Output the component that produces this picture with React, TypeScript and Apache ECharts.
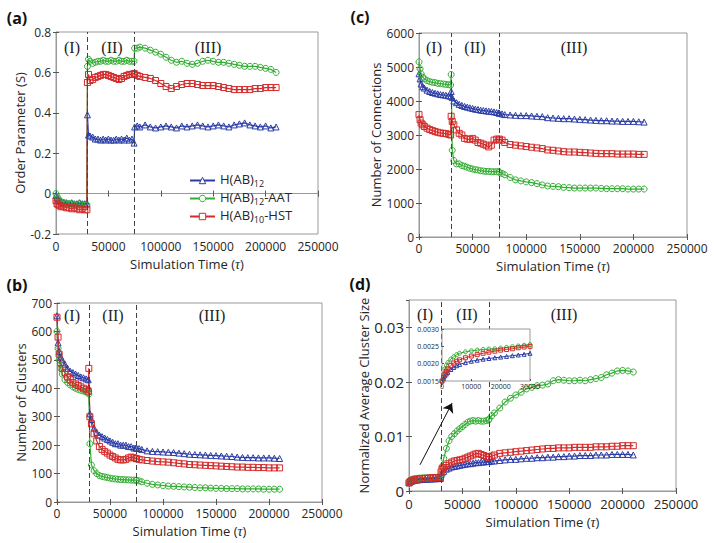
import React, { useEffect, useRef } from 'react';
import * as echarts from 'echarts';

// ---------------- data ----------------
const T = [
  0, 1000, 2000, 3500, 5000, 7500, 10000, 12500, 15000, 17500, 20000, 22500, 25000, 27500, 29500,
  30000, 31000, 32500, 35000, 37500, 40000, 42500, 45000, 47500, 50000, 52500, 55000, 57500, 60000, 62500, 65000, 67500, 70000, 72500, 74500,
  75000, 77500, 80000, 85000, 90000, 95000, 100000, 105000, 110000, 115000, 120000, 125000, 130000, 135000, 140000, 145000, 150000, 155000, 160000, 165000, 170000, 175000, 180000, 185000, 190000, 195000, 200000, 205000, 210000,
];
const PHASE_BOUNDS = [30000, 75000];
const NAMES = ['H(AB)12', 'H(AB)12-AAT', 'H(AB)10-HST'];

// (a) order parameter
const A_BLUE = [
  -0.01, -0.02, -0.03, -0.035, -0.04, -0.045, -0.045, -0.05, -0.045, -0.05, -0.05, -0.045, -0.05, -0.05, -0.05,
  0.39, 0.29, 0.285, 0.28, 0.27, 0.27, 0.265, 0.27, 0.265, 0.27, 0.265, 0.265, 0.27, 0.265, 0.27, 0.265, 0.275, 0.265, 0.27, 0.25,
  0.33, 0.335, 0.33, 0.34, 0.33, 0.325, 0.33, 0.335, 0.33, 0.325, 0.335, 0.33, 0.335, 0.34, 0.335, 0.33, 0.335, 0.34, 0.335, 0.33, 0.34, 0.345, 0.35, 0.34, 0.335, 0.33, 0.335, 0.325, 0.33,
];
const A_GREEN = [
  0, -0.015, -0.025, -0.035, -0.04, -0.045, -0.05, -0.05, -0.05, -0.055, -0.055, -0.05, -0.055, -0.055, -0.055,
  0.63, 0.665, 0.655, 0.645, 0.65, 0.655, 0.655, 0.66, 0.655, 0.655, 0.66, 0.655, 0.655, 0.66, 0.655, 0.655, 0.66, 0.655, 0.655, 0.655,
  0.72, 0.72, 0.725, 0.72, 0.71, 0.7, 0.69, 0.675, 0.66, 0.65, 0.655, 0.645, 0.64, 0.645, 0.655, 0.66, 0.655, 0.65, 0.65, 0.645, 0.64, 0.635, 0.63, 0.63, 0.63, 0.625, 0.62, 0.615, 0.6,
];
const A_RED = [
  -0.035, -0.05, -0.055, -0.06, -0.065, -0.065, -0.07, -0.07, -0.075, -0.07, -0.075, -0.08, -0.075, -0.08, -0.08,
  0.55, 0.59, 0.56, 0.565, 0.575, 0.58, 0.585, 0.59, 0.59, 0.585, 0.58, 0.575, 0.57, 0.565, 0.57, 0.58, 0.585, 0.59, 0.59, 0.595,
  0.59, 0.585, 0.58, 0.575, 0.57, 0.56, 0.545, 0.53, 0.52, 0.53, 0.54, 0.545, 0.545, 0.54, 0.535, 0.535, 0.535, 0.53, 0.525, 0.52, 0.515, 0.515, 0.515, 0.515, 0.52, 0.52, 0.525, 0.525, 0.525,
];

// (b) number of clusters
const B_BLUE = [
  655, 560, 530, 510, 500, 485, 470, 460, 455, 450, 445, 440, 437, 433, 430,
  400, 310, 290, 260, 245, 235, 230, 225, 220, 215, 210, 205, 205, 200, 200, 200, 195, 195, 190, 190,
  190, 188, 185, 180, 178, 177, 176, 175, 174, 172, 170, 168, 167, 166, 165, 164, 163, 162, 161, 160, 158, 157, 156, 156, 155, 155, 155, 154, 153,
];
const B_GREEN = [
  600, 540, 500, 470, 450, 430, 420, 412, 405, 400, 396, 393, 390, 387, 385,
  380, 205, 130, 110, 100, 93, 90, 88, 86, 84, 82, 81, 80, 79, 79, 78, 78, 77, 77, 77,
  76, 74, 71, 66, 62, 60, 58, 56, 55, 54, 53, 52, 51, 50, 50, 49, 48, 48, 47, 47, 47, 46, 46, 46, 46, 45, 45, 45, 45,
];
const B_RED = [
  650, 580, 520, 490, 470, 455, 440, 430, 420, 415, 410, 405, 400, 395, 390,
  470, 300, 275, 240, 215, 195, 185, 178, 172, 165, 160, 155, 150, 148, 148, 150, 155, 158, 156, 153,
  152, 150, 148, 146, 144, 142, 141, 140, 138, 136, 134, 132, 131, 130, 129, 128, 127, 126, 125, 124, 123, 123, 122, 122, 121, 121, 120, 120, 120,
];

// (c) number of connections
const C_BLUE = [
  4800, 4650, 4500, 4420, 4380, 4320, 4280, 4250, 4230, 4210, 4190, 4180, 4170, 4150, 4140,
  4280, 4100, 4000, 3950, 3900, 3870, 3840, 3820, 3800, 3780, 3760, 3750, 3730, 3720, 3710, 3700, 3690, 3680, 3660, 3650,
  3640, 3620, 3600, 3590, 3580, 3570, 3570, 3560, 3550, 3540, 3510, 3500, 3490, 3480, 3480, 3470, 3460, 3450, 3440, 3430, 3420, 3420, 3410, 3410, 3400, 3400, 3400, 3390, 3380,
];
const C_GREEN = [
  5150, 4950, 4800, 4700, 4650, 4600, 4570, 4550, 4540, 4520, 4510, 4500, 4490, 4480, 4470,
  4780, 2550, 2250, 2150, 2150, 2100, 2080, 2050, 2020, 2000, 1980, 1970, 1950, 1940, 1930, 1930, 1920, 1920, 1920, 1920,
  1900, 1870, 1830, 1750, 1680, 1650, 1620, 1600, 1570, 1530, 1500, 1490, 1480, 1460, 1450, 1440, 1440, 1440, 1440, 1440, 1430, 1420, 1420, 1420, 1420, 1410, 1410, 1410, 1410,
];
const C_RED = [
  3600, 3450, 3350, 3300, 3250, 3200, 3160, 3130, 3100, 3080, 3060, 3050, 3040, 3020, 3000,
  3550, 3400, 3300, 3150, 3050, 3000, 2900, 2880, 2870, 2900, 2850, 2780, 2760, 2730, 2700, 2650, 2700, 2850, 2880, 2850,
  2880, 2850, 2780, 2720, 2700, 2680, 2660, 2640, 2620, 2600, 2560, 2550, 2530, 2510, 2500, 2500, 2490, 2480, 2470, 2460, 2450, 2450, 2450, 2440, 2440, 2440, 2440, 2430, 2430,
];

// (d) normalized average cluster size
const D_BLUE = [
  0.0015, 0.00165, 0.00175, 0.00186, 0.00194, 0.002, 0.00207, 0.00211, 0.00214, 0.00216, 0.00219, 0.00222, 0.00224, 0.00227, 0.0023,
  0.003, 0.0033, 0.0036, 0.004, 0.0042, 0.0044, 0.0045, 0.0046, 0.0047, 0.0048, 0.0049, 0.005, 0.005, 0.0051, 0.0052, 0.0052, 0.0053, 0.0053, 0.0054, 0.0054,
  0.0054, 0.0055, 0.0055, 0.0056, 0.0057, 0.0058, 0.0058, 0.0059, 0.006, 0.006, 0.0061, 0.0061, 0.0062, 0.0062, 0.0063, 0.0063, 0.0064, 0.0064, 0.0065, 0.0065, 0.0065, 0.0066, 0.0066, 0.0066, 0.0067, 0.0067, 0.0067, 0.0067, 0.0066,
];
const D_GREEN = [
  0.0015, 0.00185, 0.00203, 0.00216, 0.00226, 0.00232, 0.00237, 0.0024, 0.00241, 0.00243, 0.00245, 0.00248, 0.0025, 0.00252, 0.00255,
  0.003, 0.0045, 0.006, 0.0078, 0.0092, 0.01, 0.0105, 0.011, 0.0114, 0.0118, 0.0122, 0.0126, 0.0128, 0.0129, 0.0128, 0.0129, 0.0128, 0.0128, 0.0129, 0.013,
  0.0132, 0.0138, 0.0143, 0.0152, 0.0163, 0.017, 0.0176, 0.0181, 0.0187, 0.019, 0.0193, 0.0194, 0.0196, 0.0202, 0.0204, 0.0203, 0.0202, 0.0202, 0.0203, 0.0202, 0.0204, 0.0206, 0.0208, 0.0213, 0.0216, 0.022, 0.0221, 0.022, 0.0218,
];
const D_RED = [
  0.0015, 0.0017, 0.00185, 0.00196, 0.00207, 0.00215, 0.00222, 0.00227, 0.00231, 0.00234, 0.00239, 0.00242, 0.00244, 0.00247, 0.0025,
  0.0035, 0.004, 0.0043, 0.0047, 0.005, 0.0053, 0.0055, 0.0056, 0.0057, 0.0058, 0.006, 0.0062, 0.0064, 0.0066, 0.0068, 0.0069, 0.0067, 0.0065, 0.0063, 0.0063,
  0.0062, 0.0064, 0.0066, 0.0069, 0.007, 0.0071, 0.0072, 0.0073, 0.0074, 0.0075, 0.0076, 0.0077, 0.0078, 0.0078, 0.0079, 0.0079, 0.0079, 0.008, 0.008, 0.008, 0.008, 0.0081, 0.0081, 0.0081, 0.0082, 0.0082, 0.0083, 0.0083, 0.0083,
];

// inset of (d): phase I detail
const TI = [0, 500, 1000, 1500, 2000, 3000, 4000, 5000, 6000, 8000, 10000, 12000, 14000, 16000, 18000, 20000, 22000, 24000, 26000, 28000, 30000];
const I_BLUE = [0.0015, 0.00157, 0.00165, 0.0017, 0.00175, 0.00183, 0.00189, 0.00194, 0.00198, 0.00203, 0.00207, 0.0021, 0.00213, 0.00215, 0.00217, 0.00219, 0.00221, 0.00223, 0.00225, 0.00227, 0.0023];
const I_GREEN = [0.0015, 0.0017, 0.00185, 0.00195, 0.00203, 0.00213, 0.0022, 0.00226, 0.0023, 0.00234, 0.00237, 0.00239, 0.00241, 0.00242, 0.00243, 0.00245, 0.00247, 0.00249, 0.00251, 0.00253, 0.00255];
const I_RED = [0.0015, 0.0016, 0.0017, 0.00178, 0.00185, 0.00195, 0.00202, 0.00207, 0.00211, 0.00217, 0.00222, 0.00226, 0.0023, 0.00233, 0.00236, 0.00239, 0.00241, 0.00243, 0.00246, 0.00248, 0.0025];

// arrow in (d), data coordinates [time, size]
const ARROW_FROM = [10300, 0.0048];
const ARROW_TO = [40300, 0.0161];

const REGION_TEXT = ['(I)', '(II)', '(III)'];

// ---------------- style ----------------
const COLORS = ['#2b3ca6', '#33ad33', '#d42a2a'];
const SYMBOLS = ['triangle', 'circle', 'rect'];
const FONT = '"Open Sans", "Noto Sans", sans-serif';
const SERIF = '"Liberation Serif", "DejaVu Serif", serif';
const TEXT = '#262626';
const BOX = '#999999';
const CLEAR = 'rgba(255,255,255,0)';

export default function App() {
  const ref = useRef<HTMLDivElement>(null);

  useEffect(() => {
    const chart = echarts.init(ref.current!, null, { renderer: 'svg' });

    const panels = [
      { grid: { left: 56, top: 32, width: 262, height: 202 }, y: { min: -0.2, max: 0.8, interval: 0.2 }, fmt: (v: number) => (Math.abs(v) < 1e-9 ? '0' : v.toFixed(1)),
        yName: 'Order Parameter (S)', vals: [A_BLUE, A_GREEN, A_RED], xm: 6, xg: 23, yg: 27, xs: 12, ys: 12 },
      { grid: { left: 57, top: 303, width: 265, height: 199 }, y: { min: 0, max: 700, interval: 100 }, fmt: (v: number) => String(v),
        yName: 'Number of Clusters', vals: [B_BLUE, B_GREEN, B_RED], xm: 5, xg: 22, yg: 26, xs: 12, ys: 12 },
      { grid: { left: 419, top: 33, width: 268, height: 204 }, y: { min: 0, max: 6000, interval: 1000 }, fmt: (v: number) => String(v),
        yName: 'Number of Connections', vals: [C_BLUE, C_GREEN, C_RED], xm: 5, xg: 22, yg: 33, xs: 12, ys: 12 },
      { grid: { left: 409, top: 300, width: 267, height: 191 }, y: { min: 0, max: 0.035, interval: 0.01 }, fmt: (v: number) => (Math.abs(v) < 1e-12 ? '0' : String(+v.toFixed(3))),
        yName: 'Normalized Average Cluster Size', vals: [D_BLUE, D_GREEN, D_RED], xm: 6, xg: 24, yg: 32, xs: 13, ys: 15 },
    ];

    const grids: any[] = panels.map((p) => ({ ...p.grid, show: true, borderColor: BOX, borderWidth: 1 }));
    grids.push({ left: 442, top: 329, width: 88, height: 52, show: true, borderColor: BOX, borderWidth: 1, backgroundColor: '#fff', z: 20 });

    const xName = '{a|Simulation Time (}{t|τ}{a|)}';
    const xAxes: any[] = panels.map((p, i) => ({
      type: 'value', gridIndex: i, min: 0, max: 250000, interval: 50000,
      axisLine: { show: true, lineStyle: { color: BOX } },
      axisTick: { show: true, inside: true, length: 3, lineStyle: { color: '#555' } },
      splitLine: { show: false },
      axisLabel: { color: TEXT, fontSize: p.xs, fontFamily: FONT, margin: p.xm, lineHeight: 13, formatter: (v: number) => String(v) },
      name: xName, nameLocation: 'middle', nameGap: p.xg,
      nameTextStyle: {
        color: TEXT, fontSize: 13, fontFamily: FONT, lineHeight: 14,
        rich: {
          a: { color: TEXT, fontSize: 13, fontFamily: FONT, lineHeight: 14 },
          t: { color: TEXT, fontSize: 14, fontFamily: SERIF, fontStyle: 'italic', lineHeight: 14 },
        },
      },
    }));
    const yAxes: any[] = panels.map((p, i) => ({
      type: 'value', gridIndex: i, min: p.y.min, max: p.y.max, interval: p.y.interval,
      axisLine: { show: true, lineStyle: { color: BOX } },
      axisTick: { show: true, inside: true, length: 3, lineStyle: { color: '#555' } },
      splitLine: { show: false },
      axisLabel: { color: TEXT, fontSize: p.ys, fontFamily: FONT, margin: 5, formatter: p.fmt, showMaxLabel: i === 3 ? false : true },
      name: p.yName, nameLocation: 'middle', nameGap: p.yg,
      nameTextStyle: { color: TEXT, fontSize: 13, fontFamily: FONT },
    }));
    // inset axes (index 4)
    xAxes.push({
      type: 'value', gridIndex: 4, min: 0, max: 30000, interval: 10000, z: 21,
      axisLine: { show: false }, axisTick: { show: true, inside: true, length: 2, lineStyle: { color: '#555' } },
      splitLine: { show: false }, axisLabel: { color: TEXT, fontSize: 7, fontFamily: FONT, margin: 2, formatter: (v: number) => String(v) },
    });
    yAxes.push({
      type: 'value', gridIndex: 4, min: 0.0015, max: 0.003, interval: 0.0005, z: 21,
      axisLine: { show: false }, axisTick: { show: true, inside: true, length: 2, lineStyle: { color: '#555' } },
      splitLine: { show: false }, axisLabel: { color: TEXT, fontSize: 7, fontFamily: FONT, margin: 3, formatter: (v: number) => v.toFixed(4) },
    });
    // mirror (box) ticks on top/right
    panels.forEach((p, i) => {
      xAxes.push({
        type: 'value', gridIndex: i, position: 'top', min: 0, max: 250000, interval: 50000,
        axisLine: { show: false }, axisTick: { show: true, inside: true, length: 3, lineStyle: { color: '#555' } },
        axisLabel: { show: false }, splitLine: { show: false },
      });
      yAxes.push({
        type: 'value', gridIndex: i, position: 'right', min: p.y.min, max: p.y.max, interval: p.y.interval,
        axisLine: { show: false }, axisTick: { show: true, inside: true, length: 3, lineStyle: { color: '#555' } },
        axisLabel: { show: false }, splitLine: { show: false },
      });
    });

    const series: any[] = [];
    panels.forEach((p, pi) => {
      p.vals.forEach((vals, si) => {
        const s: any = {
          type: 'line', name: NAMES[si], xAxisIndex: pi, yAxisIndex: pi,
          data: T.map((t, k) => [t, vals[k]]),
          symbol: SYMBOLS[si], symbolSize: 6, showAllSymbol: true,
          lineStyle: { color: COLORS[si], width: 1.2 },
          itemStyle: { color: CLEAR, borderColor: COLORS[si], borderWidth: 1 },
          emphasis: { disabled: true }, silent: true, z: 2,
        };
        if (si === 0) {
          s.markLine = {
            silent: true, symbol: ['none', 'none'], label: { show: false },
            lineStyle: { color: '#444', type: [5, 3], width: 1 },
            data: PHASE_BOUNDS.map((x) => ({ xAxis: x })),
          };
        }
        if (pi === 3 && si === 1) {
          s.markLine = {
            silent: true, symbol: ['none', 'arrow'], symbolSize: 9, label: { show: false },
            lineStyle: { color: '#111', type: 'solid', width: 1 },
            data: [[{ coord: ARROW_FROM }, { coord: ARROW_TO }]],
          };
        }
        series.push(s);
      });
    });
    [I_BLUE, I_GREEN, I_RED].forEach((vals, si) => {
      series.push({
        type: 'line', name: NAMES[si], xAxisIndex: 4, yAxisIndex: 4,
        data: TI.map((t, k) => [t, vals[k]]),
        symbol: SYMBOLS[si], symbolSize: 4, showAllSymbol: true,
        lineStyle: { color: COLORS[si], width: 1 },
        itemStyle: { color: CLEAR, borderColor: COLORS[si], borderWidth: 1 },
        emphasis: { disabled: true }, silent: true, z: 22,
      });
    });

    const legendRich: Record<string, string> = {
      'H(AB)12': '{n|H(AB)}{s|12}',
      'H(AB)12-AAT': '{n|H(AB)}{s|12}{n|-AAT}',
      'H(AB)10-HST': '{n|H(AB)}{s|10}{n|-HST}',
    };

    const panelLabels = [
      { t: '(a)', x: 17, y: 18 },
      { t: '(c)', x: 360, y: 17 },
      { t: '(b)', x: 17, y: 285 },
      { t: '(d)', x: 360, y: 284 },
    ];
    const regionPos = [
      [[72, 47], [112, 47], [208, 47]],
      [[72, 315], [113, 315], [212, 315]],
      [[434, 47], [475, 47], [574, 47]],
      [[425, 314], [467, 314], [564, 314]],
    ];
    const graphic: any[] = [];
    panelLabels.forEach((l) =>
      graphic.push({ type: 'text', x: l.x, y: l.y, z: 30, style: { text: l.t, fill: '#111', font: `bold 16px ${FONT}`, align: 'center', verticalAlign: 'middle' } })
    );
    regionPos.forEach((row) =>
      row.forEach((pos, k) =>
        graphic.push({ type: 'text', x: pos[0], y: pos[1], z: 30, style: { text: REGION_TEXT[k], fill: '#222', font: `16px ${SERIF}`, align: 'center', verticalAlign: 'middle' } })
      )
    );

    chart.setOption({
      animation: false,
      backgroundColor: '#fff',
      grid: grids,
      xAxis: xAxes,
      yAxis: yAxes,
      series,
      graphic,
      legend: {
        data: NAMES.map((n, i) => ({
          name: n,
          itemStyle: { color: '#fff', borderColor: COLORS[i], borderWidth: 1 },
        })),
        orient: 'vertical', left: 184, top: 167,
        itemWidth: 25, itemHeight: 8, itemGap: 2, selectedMode: false,
        formatter: (n: string) => legendRich[n],
        textStyle: {
          color: TEXT, fontFamily: FONT,
          rich: {
            n: { fontSize: 13, fontFamily: FONT, color: TEXT, lineHeight: 15, padding: [0, 0, 3, 0], verticalAlign: 'bottom' },
            s: { fontSize: 9, fontFamily: FONT, color: TEXT, lineHeight: 11, verticalAlign: 'bottom' },
          },
        },
      },
    });

    return () => chart.dispose();
  }, []);

  return <div ref={ref} style={{ position: 'fixed', left: 0, top: 0, width: 714, height: 543, background: '#fff' }} />;
}
